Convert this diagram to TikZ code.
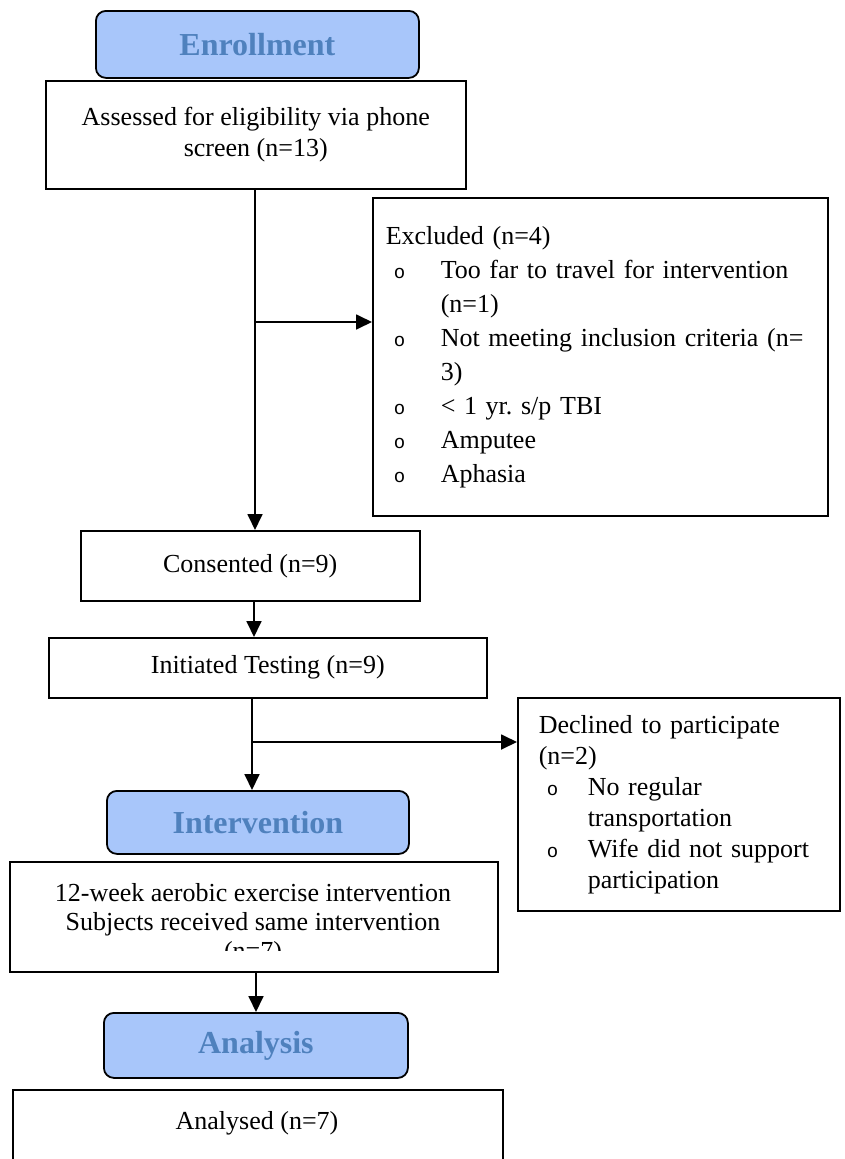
\documentclass[tikz,border=0pt]{standalone}
\usepackage{fontspec}
\setmainfont{Liberation Serif}
\newfontfamily\bulfont{Liberation Mono}
\usetikzlibrary{positioning,arrows.meta}
\definecolor{hdrfill}{RGB}{168,198,250}
\definecolor{hdrtext}{RGB}{79,129,189}
\newcommand{\bul}{{\bulfont\fontsize{19}{19}\selectfont o}}
\newcommand{\exitem}[2]{\makebox[#1][l]{\hspace{8pt}\bul}#2}
\frenchspacing

\begin{document}
\begin{tikzpicture}[x=1pt,y=-1pt,
  box/.style={draw,line width=1.5pt,anchor=north west,inner sep=0pt},
  hdr/.style={draw,line width=1.8pt,rounded corners=10pt,fill=hdrfill,text=hdrtext,
    font=\fontsize{32}{36}\selectfont\bfseries,minimum height=67pt,anchor=north west},
  txt/.style={font=\fontsize{26}{31}\selectfont,align=center},
  arr/.style={line width=1.8pt,-{Triangle[length=16pt,width=15pt]}}]
\clip (0,0) rectangle (844,1159);
% headers
\node[hdr,minimum width=323pt] (enrol) at (95,10) {Enrollment};
\node[hdr,minimum width=302pt,minimum height=63pt] (interv) at (106,790) {Intervention};
\node[hdr,minimum width=304pt,minimum height=65pt] (anal) at (103,1012) {Analysis};
% main column
\node[box,txt,minimum width=420pt,minimum height=108pt] (assess) at (45,80)
  {Assessed for eligibility via phone\\screen (n=13)};
\node[box,txt,minimum width=339pt,minimum height=70pt] (consent) at (80,530) {Consented (n=9)};
\node[box,txt,minimum width=438pt,minimum height=60pt] (init) at (48,637) {Initiated Testing (n=9)};
\node[box,minimum width=488pt,minimum height=110pt] (prog) at (9,861) {};
\begin{scope}
\clip (prog.north west) rectangle ([yshift=22pt]prog.south east);
\node[txt,font=\fontsize{26}{29}\selectfont] (progtext) at (253,924)
  {12-week aerobic exercise intervention\\Subjects received same intervention\\(n=7)};
\end{scope}
\node[box,minimum width=490pt,minimum height=100pt] (result) at (12,1089) {};
\node[txt] (resulttext) at (257,1123) {Analysed (n=7)};
% side boxes
\node[box,align=left,text width=429pt,inner xsep=13pt,minimum height=318pt,
  font=\fontsize{26}{34}\selectfont] (excl) at (372,197)
  {Excluded (n=4)\\
   \exitem{55pt}{Too far to travel for intervention}\\
   \hspace*{55pt}(n=1)\\
   \exitem{55pt}{Not meeting inclusion criteria (n=}\\
   \hspace*{55pt}3)\\
   \exitem{55pt}{< 1 yr. s/p TBI}\\
   \exitem{55pt}{Amputee}\\
   \exitem{55pt}{Aphasia}};
\node[box,align=left,text width=280pt,inner xsep=21pt,minimum height=213pt,
  font=\fontsize{26}{31}\selectfont] (decl) at (517,697)
  {Declined to participate\\
   (n=2)\\
   \exitem{49pt}{No regular}\\
   \hspace*{49pt}transportation\\
   \exitem{49pt}{Wife did not support}\\
   \hspace*{49pt}participation};
% connectors
\coordinate (brone) at (255,322);
\coordinate (brtwo) at (252,742);
\draw[arr] (assess.south -| brone) -- (consent.north -| brone);
\draw[arr] (brone) -- (brone -| excl.west);
\draw[arr] (consent.south -| 254,0) -- (init.north -| 254,0);
\draw[arr] (init.south -| brtwo) -- (interv.north -| brtwo);
\draw[arr] (brtwo) -- (brtwo -| decl.west);
\draw[arr] (prog.south -| 256,0) -- (anal.north -| 256,0);
\end{tikzpicture}
\end{document}
